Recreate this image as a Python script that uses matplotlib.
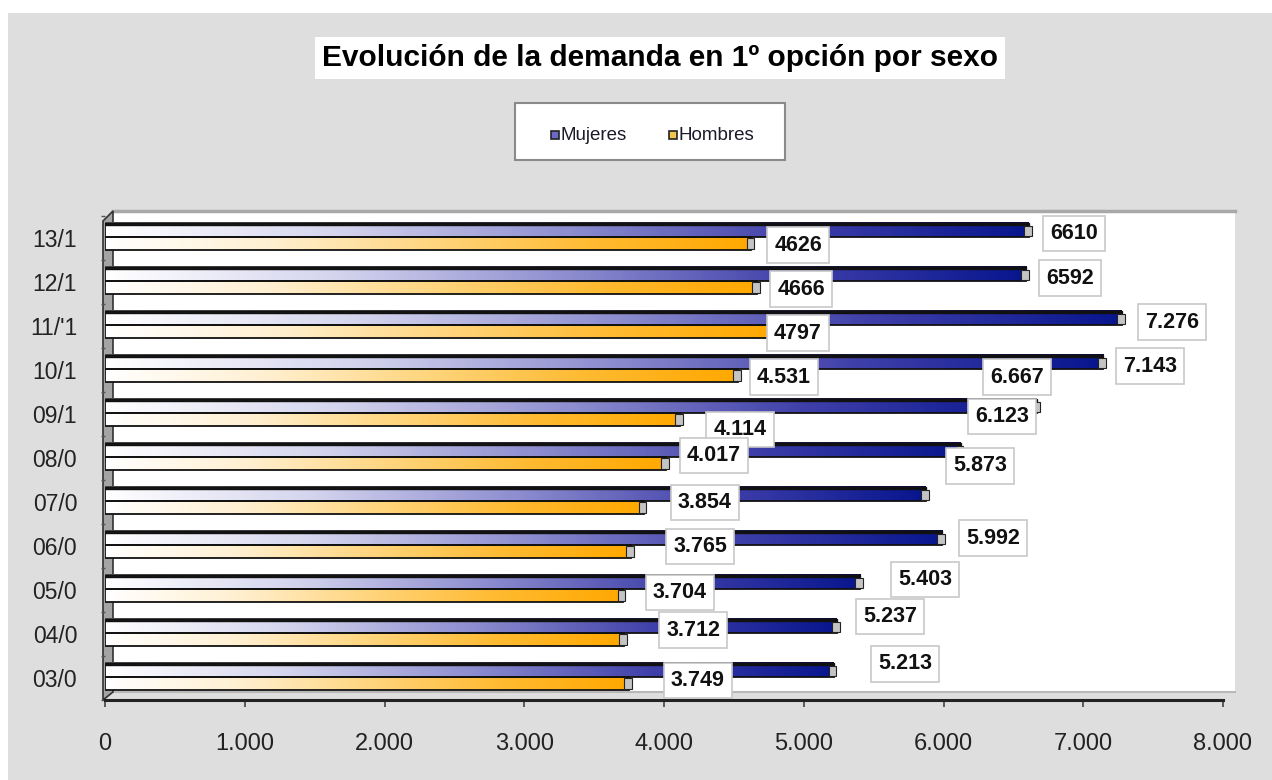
import numpy as np
import matplotlib
matplotlib.use("Agg")
from matplotlib import pyplot as plt
from matplotlib.patches import Rectangle, Polygon
from matplotlib.colors import LinearSegmentedColormap
from matplotlib.ticker import FuncFormatter

plt.rcParams['font.family'] = ['Liberation Sans', 'DejaVu Sans']

# datos (de abajo hacia arriba)
cursos = ["03/0", "04/0", "05/0", "06/0", "07/0", "08/0", "09/1", "10/1", "11/'1", "12/1", "13/1"]
mujeres = [5213, 5237, 5403, 5992, 5873, 6123, 6667, 7143, 7276, 6592, 6610]
hombres = [3749, 3712, 3704, 3765, 3854, 4017, 4114, 4531, 4797, 4666, 4626]

# etiquetas tal como aparecen en el original
etiquetas = ["6610", "4626", "6592", "4666", "7.276", "4797", "7.143", "6.667", "4.531",
             "6.123", "4.114", "4.017", "5.873", "3.854", "5.992", "3.765", "5.403",
             "3.704", "5.237", "3.712", "5.213", "3.749"]
etiq_x = [6934, 4959, 6905, 4980, 7635, 4959, 7478, 6526, 4859,
          6419, 4544, 4358, 6261, 4293, 6354, 4258, 5868,
          4114, 5617, 4208, 5725, 4243]
etiq_y = [10.11, 9.84, 9.09, 8.84, 8.09, 7.84, 7.09, 6.84, 6.84,
          5.95, 5.64, 5.05, 4.82, 3.98, 3.18, 2.98, 2.23,
          1.95, 1.39, 1.09, 0.32, -0.05]

W, H = 1272, 780
fig = plt.figure(figsize=(W / 100, H / 100), dpi=100, facecolor='white')


def fpx(x, y):
    return (x / W, 1 - y / H)


def rect_px(x0, y0, x1, y1, **kw):
    r = Rectangle(fpx(x0, y1), (x1 - x0) / W, (y1 - y0) / H,
                  transform=fig.transFigure, **kw)
    fig.patches.append(r)
    return r


# fondo gris
rect_px(8, 13, W, H, facecolor='#dedede', edgecolor='none', zorder=-10)

# pared del fondo (blanca) y pared izquierda
rect_px(113, 211, 1235, 692, facecolor='white', edgecolor='none', zorder=-5)
fig.add_artist(plt.Line2D([113 / W, 1235 / W], [1 - 211 / H] * 2, transform=fig.transFigure,
                          color='#a8a8a8', lw=2.5, zorder=-4))
fig.add_artist(plt.Line2D([113 / W, 1235 / W], [1 - 692 / H] * 2, transform=fig.transFigure,
                          color='#b8b8b8', lw=1.5, zorder=-4))
pared = Polygon([fpx(103, 700), fpx(103, 221), fpx(113, 211), fpx(113, 692)],
                closed=True, transform=fig.transFigure, facecolor='#a4a4a4',
                edgecolor='#333333', lw=1.2, zorder=-3)
fig.patches.append(pared)

ax = fig.add_axes([105 / W, 1 - 700 / H, 1118 / W, 484 / H])
ax.set_facecolor('none')

cmap_m = LinearSegmentedColormap.from_list('m', ['#ffffff', '#d4d4ee', '#8e8ed0', '#4040aa', '#08168e'])
cmap_h = LinearSegmentedColormap.from_list('h', ['#ffffff', '#fff0d2', '#ffd680', '#ffbb33', '#ffa800'])
cmap_t = LinearSegmentedColormap.from_list('t', ['#555555', '#2a2a3a', '#0a0a40'])
grad = np.linspace(0, 1, 256).reshape(1, -1)

for i in range(len(cursos)):
    # mujeres (arriba) y hombres (abajo)
    for v, y0, y1, cm in [(mujeres[i], i + 0.02, i + 0.29, cmap_m),
                          (hombres[i], i - 0.27, i + 0.02, cmap_h)]:
        ax.imshow(grad, extent=(0, v, y0, y1), cmap=cm, aspect='auto',
                  interpolation='bilinear', zorder=2)
        ax.add_patch(Rectangle((0, y0), v, y1 - y0, fill=False, edgecolor='#111111', lw=1.3, zorder=3))
        ax.add_patch(Rectangle((v - 35, y0 + 0.02), 55, y1 - y0 - 0.04, facecolor='#c4c4c4',
                               edgecolor='#222222', lw=0.8, zorder=4))
    # cara superior oscura de la barra de mujeres
    ax.imshow(grad, extent=(0, mujeres[i], i + 0.29, i + 0.35), cmap=cmap_t,
              aspect='auto', zorder=2)
    ax.add_patch(Rectangle((0, i + 0.29), mujeres[i], 0.06, fill=False, edgecolor='#111111', lw=1.0, zorder=3))

for s, x, y in zip(etiquetas, etiq_x, etiq_y):
    ax.text(x, y, s, ha='center', va='center', fontsize=15.5, fontweight='bold', color='#111111',
            zorder=6, bbox=dict(boxstyle='square,pad=0.33', facecolor='white', edgecolor='#c8c8c8', lw=1.2))

ax.set_xlim(0, 8000)
ax.set_ylim(-0.5, len(cursos) - 0.5)
ax.set_xticks(np.arange(0, 8001, 1000))
ax.xaxis.set_major_formatter(FuncFormatter(lambda v, p: f"{int(v):,}".replace(",", ".")))
ax.set_yticks(np.arange(len(cursos)))
ax.set_yticklabels(cursos)
ax.set_yticks(np.arange(len(cursos) + 1) - 0.5, minor=True)
ax.tick_params(axis='y', which='major', length=0, pad=20, labelsize=16.5, labelcolor='#222222')
ax.tick_params(axis='y', which='minor', length=3, color='#555555', width=1)
ax.tick_params(axis='x', length=5, color='#444444', width=1.2, pad=19, labelsize=17, labelcolor='#222222')
for side in ['top', 'right', 'left']:
    ax.spines[side].set_visible(False)
ax.spines['bottom'].set_color('#222222')
ax.spines['bottom'].set_linewidth(2.2)

# titulo
fig.text(660 / W, 1 - 58 / H, "Evolución de la demanda en 1º opción por sexo", ha='center', va='center',
         fontsize=21.5, fontweight='bold', color='black',
         bbox=dict(boxstyle='square,pad=0.25', facecolor='white', edgecolor='none'))

# leyenda
rect_px(515, 103, 785, 160, facecolor='white', edgecolor='#8a8a8a', lw=1.5, zorder=1)
for xm, col, nombre in [(555, '#6a6ac4', 'Mujeres'), (673, '#f2c452', 'Hombres')]:
    fig.add_artist(plt.Line2D([xm / W], [1 - 135 / H], transform=fig.transFigure, marker='s',
                              markersize=6, markerfacecolor=col, markeredgecolor='#222222',
                              markeredgewidth=1.2, zorder=2))
    fig.text((xm + 6) / W, 1 - 136 / H, nombre, ha='left', va='center', fontsize=13.5,
             color='#1a1a2a', zorder=2)

fig.savefig("out.png", dpi=100, facecolor=fig.get_facecolor())
